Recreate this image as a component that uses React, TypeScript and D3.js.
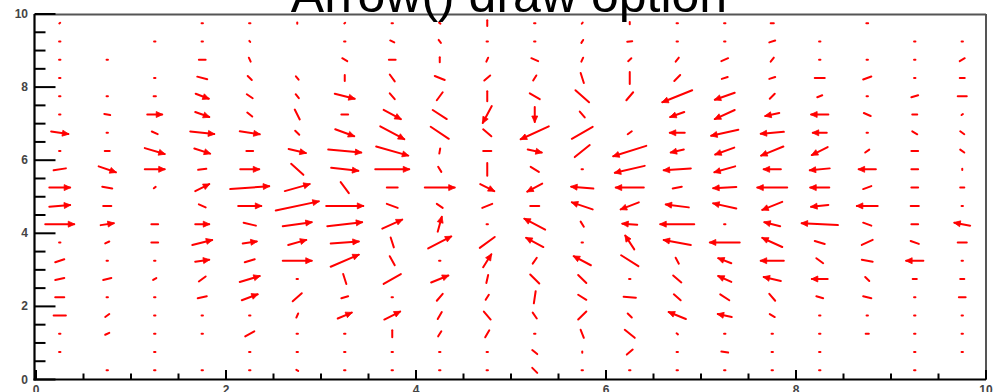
import React from "react";
import * as d3 from "d3";

// Gradient vectors per bin, in percent of the largest gradient component.
// Rows run from the top row (y = 9.75) to the bottom row (y = 0.25); columns from x = 0.25 to 9.75.
const gradX: number[][] = [
  [2, 0, 0, 3, 3, 0, 2, 3, 3, 0, 3, 2, 0, 3, 3, 7, 0, 4, 0, 0],
  [3, 0, 3, 3, 2, 0, 3, 9, 5, 3, 3, 4, 11, 3, 3, 13, 3, 0, 3, 3],
  [3, 3, 0, 15, 4, 0, 11, 15, 0, 4, 15, 4, 7, 7, 15, 7, 3, 3, 3, 11],
  [3, 0, 3, 22, 9, 6, 0, 11, 22, 13, 7, 7, 0, 13, 13, 13, 22, 18, 3, 11],
  [3, 3, 5, 29, 13, 7, 44, 11, 13, 0, 22, 30, 15, -66, -44, 11, 11, 3, 15, 20],
  [3, 13, 33, 31, 11, 11, 15, 38, 31, -20, 0, 11, 0, -31, -44, -31, -38, 15, 11, 3],
  [38, 3, 13, 53, 44, 9, 42, 53, 40, 18, -62, 46, 9, -33, -60, -51, -31, 3, 11, 9],
  [3, 11, 44, 35, 15, 38, 73, 71, 2, 18, 31, 33, -73, -29, -42, -49, -35, 9, 15, 9],
  [27, 38, 44, 18, 42, 27, 60, 75, 7, 0, 18, 3, -66, -60, -46, -38, -44, -38, 15, 0],
  [46, 22, 4, 31, 86, 55, 18, 24, 66, 31, -33, -49, -62, 20, -51, -66, -42, 18, 15, 9],
  [46, 18, 0, 15, 51, 95, 82, 24, 13, 22, 20, -46, -40, -51, -51, -44, -38, -46, 18, 3],
  [64, 29, 15, 31, 27, 64, 77, 44, 9, 3, -46, 7, -33, -75, 3, -35, -80, 18, 15, -35],
  [3, 9, 15, 44, 31, 40, 62, 7, 51, 33, -38, 3, -20, -60, -66, -44, 22, 24, 18, 20],
  [20, 3, 3, 31, 22, 64, 62, 11, 3, 18, 9, -38, 38, 7, -29, -51, 15, 24, -38, 3],
  [20, 18, 7, 15, 44, 3, 7, 38, 38, 4, 20, 18, 3, 18, -29, -38, -35, 9, 9, 9],
  [20, 3, 3, 20, 35, 20, 15, 3, 13, 7, 4, 18, 27, 15, 20, 13, 15, 18, 3, 15],
  [27, 9, 3, 3, 3, 4, 31, 35, 9, 15, 9, 18, 9, -38, -31, 11, 3, 3, 3, 3],
  [3, 9, 3, 3, 20, 3, 3, 0, 7, 9, 3, 7, 22, 3, 3, 3, 3, 7, 3, 3],
  [3, 0, 3, 0, 3, 3, 3, 3, 3, 3, 11, 0, 13, 3, 15, 3, 3, 0, 3, 3],
  [0, 3, 3, 3, 3, 4, 3, 3, 3, 3, 11, 3, 3, 3, 3, 3, 3, 0, 3, 0],
];

const gradY: number[][] = [
  [4, 0, 0, 0, 0, 8, 4, 0, -6, 34, 0, 6, 12, 0, 0, 0, 0, 0, 0, 0],
  [0, 0, 0, 0, -6, 0, 0, -11, -17, 0, 0, 17, 3, 0, 0, 11, 0, 0, 0, 0],
  [0, 0, 0, 0, -23, 0, -17, 0, 29, 23, -17, 23, 17, 23, 17, 23, 0, 0, 0, 17],
  [0, 0, 0, -15, -23, -19, 34, -40, -23, 29, 29, -57, 69, 34, 11, 11, 0, 17, 0, 0],
  [0, 0, 0, -29, -23, -23, -29, -34, 46, 57, -34, -69, 46, -69, -40, 29, 11, 0, 11, 0],
  [0, -6, 0, -29, -23, -57, 0, -53, -52, -97, -86, -34, 0, -29, -52, -17, 0, -17, 0, 6],
  [-15, 0, -15, -15, -17, -23, -40, -74, -69, -40, -74, 69, 17, 0, -34, -11, 0, 0, -17, -17],
  [0, 0, -34, -29, 0, -23, -17, -52, 29, 0, -17, 69, -60, -17, -40, -52, -46, 17, 0, -17],
  [11, -34, 0, 6, 0, -63, -17, 0, -29, 74, -29, 0, -40, -11, -34, 0, -11, 0, 0, 8],
  [0, -11, 8, 40, 17, 40, -63, 0, 0, -40, -46, 11, 0, 11, -6, 0, 0, 17, 0, 0],
  [10, 0, 0, -17, 0, 52, 0, -23, -23, 23, 0, 40, -40, 17, 29, -46, -11, 0, 0, 0],
  [0, 11, 0, 0, -17, 23, 23, 52, 86, 0, 63, -29, 6, 0, 0, 23, 11, -17, 0, 17],
  [0, 11, 0, 29, 11, 29, 11, -57, 69, 63, 53, 0, 80, 29, 0, 52, -17, 29, -17, 0],
  [17, 0, 0, 11, 17, 0, 69, -52, 0, 74, 34, 52, -63, -34, 29, 0, -29, -11, 0, 0],
  [11, 11, 11, 29, 34, 0, -57, 57, 40, 46, -52, -46, 0, -40, 34, 23, 0, -23, 0, 0],
  [0, 0, 0, 11, 34, 46, 11, 0, 40, 29, 69, -29, -6, -34, -34, -40, -11, -11, 0, 0],
  [0, 17, 0, 0, 0, 23, 34, 46, 40, -46, -34, 46, -23, 40, 17, -17, 0, 0, 0, 0],
  [0, 11, 0, 0, 29, 0, 0, 40, 29, 40, 0, -46, -46, -6, 0, 0, 0, 0, 0, 0],
  [0, 0, 0, 0, 0, 0, 0, 0, 0, 0, -23, 8, 29, 0, -6, 0, 0, 0, 0, 0],
  [0, 0, 0, 0, 0, -6, 0, 0, 0, 0, -29, 0, 0, 0, 0, 0, 0, 0, 0, 0],
];

const xTickLabels = ["0", "2", "4", "6", "8", "10"];
const yTickLabels = ["0", "2", "4", "6", "8", "10"];
const title = "Arrow() draw option";

const W = 994;
const H = 392;
const X0 = 36, X1 = 986, Y0 = 379.5, Y1 = 14;
const NX = 20, NY = 20;
const XMIN = 0, XMAX = 10, YMIN = 0, YMAX = 10;

export default function App() {
  const x = d3.scaleLinear().domain([XMIN, XMAX]).range([X0, X1]);
  const y = d3.scaleLinear().domain([YMIN, YMAX]).range([Y0, Y1]);
  const binW = (XMAX - XMIN) / NX;
  const binH = (YMAX - YMIN) / NY;
  const fx = 0.5 * binW * NX / (NX + 0.97);
  const fy = 0.5 * binH * NY / (NY + 0.97);

  const arrows: React.ReactNode[] = [];
  gradX.forEach((row, r) => {
    row.forEach((gx, c) => {
      const gy = gradY[r][c];
      if (gx === 0 && gy === 0) return;
      const xc = XMIN + (c + 0.5) * binW;
      const yc = YMAX - (r + 0.5) * binH;
      const px1 = x(xc - (gx / 100) * fx);
      const px2 = x(xc + (gx / 100) * fx);
      const py1 = y(yc - (gy / 100) * fy);
      const py2 = y(yc + (gy / 100) * fy);
      const dx = px2 - px1, dy = py2 - py1;
      const len = Math.hypot(dx, dy);
      const ang = (Math.atan2(Math.abs(dy), Math.abs(dx)) * 180) / Math.PI;
      const head = len > 13 && !(ang > 28.8 && ang < 56);
      arrows.push(
        <line key={`l${r}-${c}`} x1={px1} y1={py1} x2={px2} y2={py2}
          stroke="#ff0000" strokeWidth={2} strokeLinecap="round" />
      );
      if (head) {
        const ux = dx / len, uy = dy / len;
        const hl = 6, hw = 3;
        const bx = px2 - ux * hl, by = py2 - uy * hl;
        const pts = [
          [px2 + ux * 0.5, py2 + uy * 0.5],
          [bx - uy * hw, by + ux * hw],
          [bx + uy * hw, by - ux * hw],
        ];
        arrows.push(
          <polygon key={`h${r}-${c}`} points={pts.map((p) => p.join(",")).join(" ")}
            fill="#ff0000" stroke="#ff0000" strokeWidth={0.8} strokeLinejoin="round" />
        );
      }
    });
  });

  const yTicks = d3.range(0, 21).map((i) => YMIN + i * 0.5);
  const xTicks = d3.range(0, 21).map((i) => XMIN + i * 0.5);
  const yMajor = yTickLabels.map(Number);
  const xMajor = xTickLabels.map(Number);

  return (
    <svg width={W} height={H} style={{ position: "absolute", left: 0, top: 0, background: "#fff" }}
      fontFamily="'Liberation Sans', Arial, sans-serif">
      <rect x={0} y={0} width={W} height={H} fill="#fff" />
      {/* frame */}
      <line x1={X0 - 1} y1={Y1 + 0.5} x2={X1} y2={Y1 + 0.5} stroke="#555" strokeWidth={2} />
      <line x1={X1} y1={Y1} x2={X1} y2={Y0} stroke="#555" strokeWidth={2} />
      {arrows}
      {/* axes */}
      <line x1={X0 - 1.5} y1={Y1} x2={X0 - 1.5} y2={Y0 + 1} stroke="#000" strokeWidth={2.2} />
      <line x1={X0 - 2.5} y1={Y0} x2={X1} y2={Y0} stroke="#000" strokeWidth={2.2} />
      {yTicks.map((v) => {
        const major = yMajor.includes(v);
        return (
          <line key={`yt${v}`} x1={X0 - 1.5} x2={X0 - 1.5 + (major ? 21 : 11)} y1={y(v)} y2={y(v)}
            stroke="#000" strokeWidth={2} />
        );
      })}
      {xTicks.map((v) => {
        const major = xMajor.includes(v);
        return (
          <line key={`xt${v}`} x1={x(v)} x2={x(v)} y1={Y0} y2={Y0 - (major ? 9.5 : 6)}
            stroke="#000" strokeWidth={2} />
        );
      })}
      {yTickLabels.map((t) => (
        <text key={`yl${t}`} x={28} y={y(Number(t)) + 4} textAnchor="end" fontSize={12}
          fontWeight="bold" fill="#444">{t}</text>
      ))}
      {xTickLabels.map((t) => (
        <text key={`xl${t}`} x={x(Number(t))} y={394} textAnchor="middle" fontSize={12}
          fontWeight="bold" fill="#444">{t}</text>
      ))}
      <text x={509} y={12} textAnchor="middle" fontSize={50} fill="#000">{title}</text>
    </svg>
  );
}
